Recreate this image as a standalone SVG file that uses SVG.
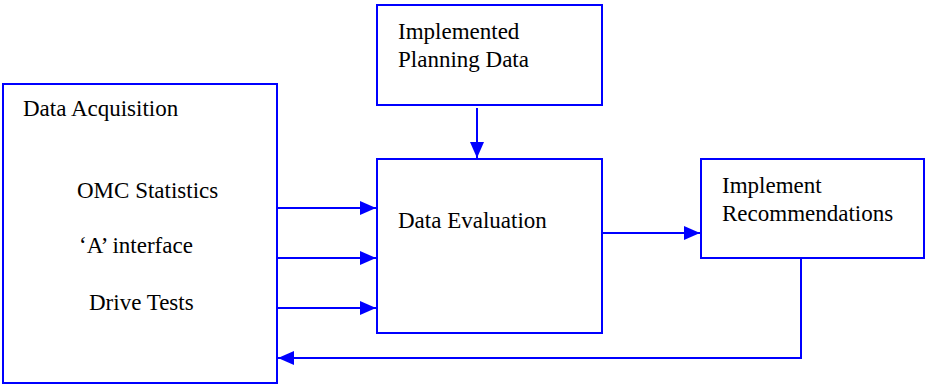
<svg xmlns="http://www.w3.org/2000/svg" width="925" height="385" viewBox="0 0 925 385">
<style>
.box{fill:#fff;stroke:#0000ff;stroke-width:2}
.t{font-size:23px;fill:#000}
.c{fill:none;stroke:#0000ff;stroke-width:2}
</style>
<defs>
<marker id="ah" viewBox="0 0 16 14" refX="16" refY="7" markerWidth="16" markerHeight="14" markerUnits="userSpaceOnUse" orient="auto">
<path d="M0,0 L16,7 L0,14 Z" fill="#0000ff"/>
</marker>
</defs>
<rect width="925" height="385" fill="#fff"/>
<g font-family="Liberation Serif, Times New Roman, DejaVu Serif, serif">
<g id="data-acquisition">
<rect class="box" x="3" y="84" width="274" height="299"/>
<text class="t" x="23" y="116">Data Acquisition</text>
<text class="t" x="77" y="198">OMC Statistics</text>
<text class="t" x="79" y="253">‘A’ interface</text>
<text class="t" x="89" y="310">Drive Tests</text>
</g>
<g id="implemented-planning-data">
<rect class="box" x="377" y="5" width="225" height="100"/>
<text class="t" x="398" y="39">Implemented</text>
<text class="t" x="398" y="67">Planning Data</text>
</g>
<g id="data-evaluation">
<rect class="box" x="377" y="159" width="225" height="174"/>
<text class="t" x="398" y="228">Data Evaluation</text>
</g>
<g id="implement-recommendations">
<rect class="box" x="701" y="159" width="223" height="99"/>
<text class="t" x="722" y="193">Implement</text>
<text class="t" x="722" y="221">Recommendations</text>
</g>
</g>
<g id="connectors">
<line class="c" x1="277" y1="208" x2="376" y2="208" marker-end="url(#ah)"/>
<line class="c" x1="277" y1="258" x2="376" y2="258" marker-end="url(#ah)"/>
<line class="c" x1="277" y1="308" x2="376" y2="308" marker-end="url(#ah)"/>
<line class="c" x1="477" y1="108" x2="477" y2="158" marker-end="url(#ah)"/>
<line class="c" x1="602" y1="233" x2="700" y2="233" marker-end="url(#ah)"/>
<polyline class="c" points="801,258 801,358 278,358" marker-end="url(#ah)"/>
</g>
</svg>
